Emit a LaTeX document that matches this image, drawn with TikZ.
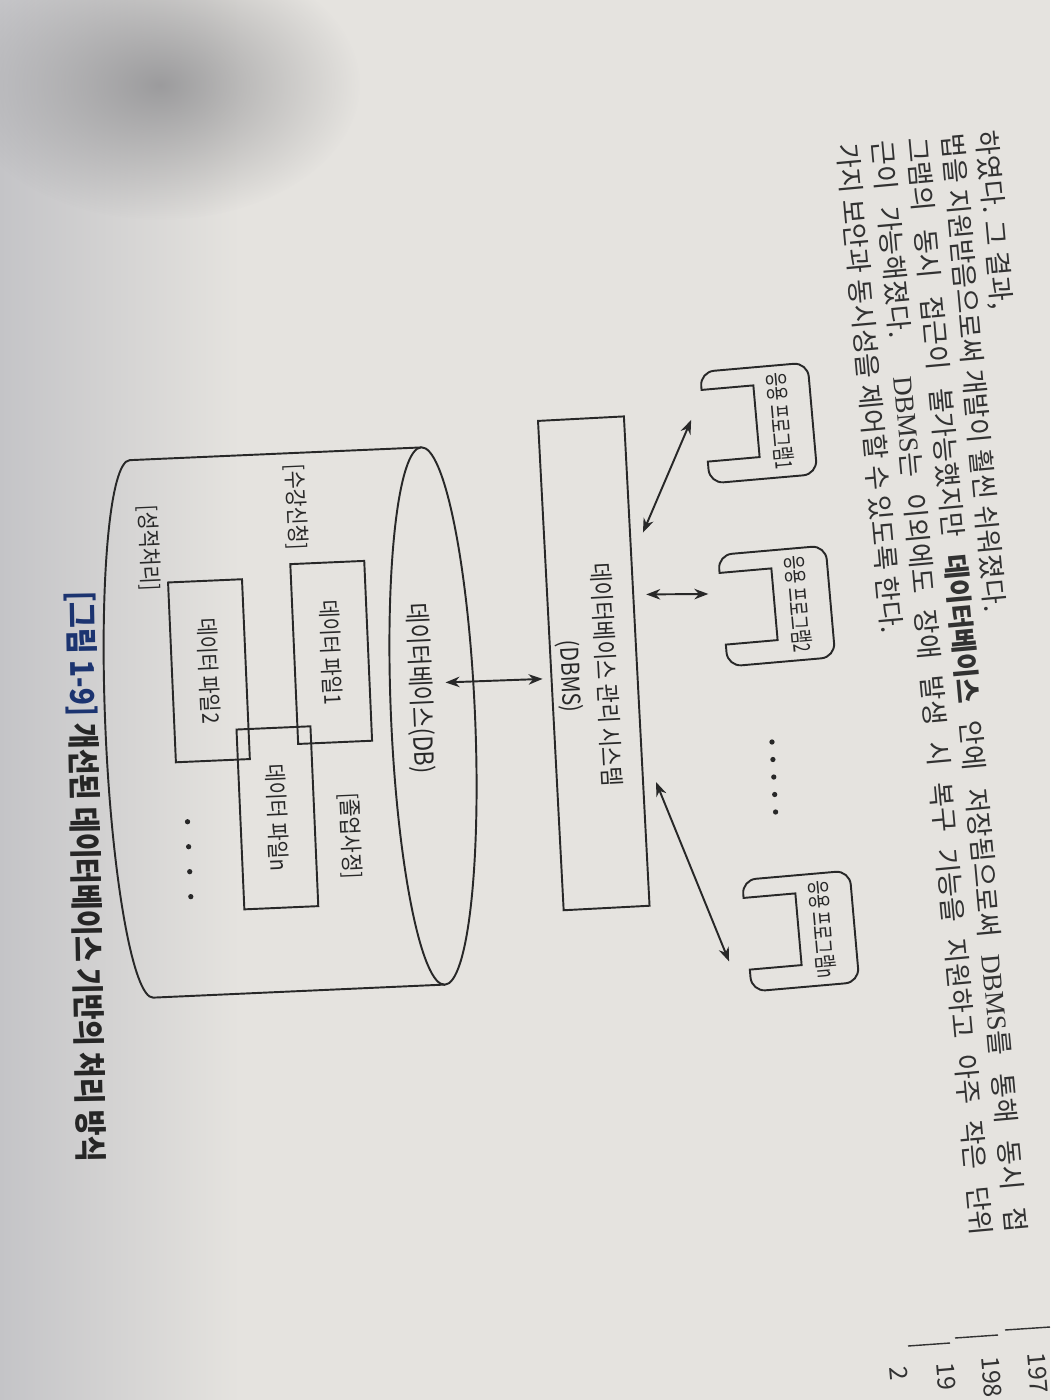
\documentclass[tikz,border=0pt]{standalone}
\usepackage{fontspec}
\setmainfont{Noto Sans CJK KR}
\newfontfamily\dgfont[FakeStretch=0.86]{Noto Sans CJK KR}
\newfontfamily\appfont[FakeStretch=0.66]{Noto Sans CJK KR}
\newfontfamily\bodylatin{Liberation Serif}
\usetikzlibrary{arrows.meta, positioning, calc, fadings}
\definecolor{paper}{RGB}{229,227,223}
\definecolor{paperdark}{RGB}{196,196,199}
\definecolor{shadowgray}{RGB}{135,135,138}
\definecolor{ink}{RGB}{40,40,40}
\definecolor{bodyink}{RGB}{50,50,50}
\definecolor{capblue}{RGB}{28,52,112}
\tikzfading[name=softblob, inner color=transparent!25, outer color=transparent!100]
\tikzset{
    diagram/.style={ink, line width=0.55pt, >={Stealth[length=4pt, width=3pt]}},
    pxframe/.style={x=0.01cm, y=0.01cm, transform shape},
    lbl/.style={font=\dgfont\fontsize{6.5}{7.8}\selectfont, inner sep=0pt, text=ink},
    biglbl/.style={font=\dgfont\fontsize{7}{8.4}\selectfont, inner sep=0pt, text=ink},
    applbl/.style={font=\appfont\fontsize{6.6}{7.8}\selectfont, inner sep=0pt, text=ink},
    filebox/.style={draw, lbl, minimum width=1.80cm, minimum height=0.74cm},
    dbmsbox/.style={draw, minimum width=4.9cm, minimum height=0.86cm, inner sep=0pt},
    capstyle/.style={font=\dgfont\bfseries\fontsize{9.3}{11}\selectfont, inner sep=0pt, text=black!85},
    bodyline/.style={font=\fontsize{7.7}{9}\selectfont, text=bodyink, inner sep=0pt, anchor=west},
    sidenum/.style={font=\fontsize{7}{8}\selectfont, text=bodyink, inner sep=0pt, anchor=west, rotate=-85},
    dot/.style={circle, fill=ink, inner sep=0pt, minimum size=1.5pt},
}
% outline of one application program (local px frame)
\newcommand{\appoutline}{%
    \draw (18,0) -- (14,0) arc[start angle=270, end angle=180, radius=0.14cm]
        -- (0,94) arc[start angle=180, end angle=90, radius=0.14cm]
        -- (98,108) arc[start angle=90, end angle=0, radius=0.14cm]
        -- (112,14) arc[start angle=0, end angle=-90, radius=0.14cm]
        -- (90,0) -- (90,52) -- (18,52) -- cycle;}

\begin{document}
\begin{tikzpicture}[diagram]
    \useasboundingbox (0,0) rectangle (10.5,-14);
    \clip (0,0) rectangle (10.5,-14);
    % photographed page
    \fill[paper] (0,0) rectangle (10.5,-14);
    \shade[left color=paperdark, right color=paper] (0,0) rectangle (2.4,-14);
    \fill[shadowgray, path fading=softblob] (1.6,-0.85) ellipse [x radius=2.0, y radius=1.35];

    % body text above the figure
    \begin{scope}[shift={(9.85cm,-1.30cm)}, rotate=-84.8, pxframe]
        \node[bodyline] (line0) at (0,0) {하였다. 그 결과,};
        \node[bodyline] (line1) at (0,-33) {법을 지원받음으로써 개발이 훨씬 쉬워졌다.};
        \node[bodyline] (line2) at (0,-68) {\makebox[11cm][s]{그램의 동시 접근이 불가능했지만 \textbf{데이터베이스} 안에 저장됨으로써 {\bodylatin DBMS}를 통해 동시 접}};
        \node[bodyline] (line3) at (0,-103) {\makebox[11cm][s]{근이 가능해졌다. {\bodylatin DBMS}는 이외에도 장애 발생 시 복구 기능을 지원하고 아주 작은 단위}};
        \node[bodyline] (line4) at (0,-138) {가지 보안과 동시성을 제어할 수 있도록 한다.};
    \end{scope}

    % DBMS
    \begin{scope}[shift={(5.37cm,-4.20cm)}, rotate=-87, pxframe]
        \node[dbmsbox, anchor=south west] (dbms) at (0,0) {};
        \node[biglbl, align=center] (dbmslbl) at (258,37) {데이터베이스 관리 시스템\\[1.8pt](DBMS)};
        \coordinate (dbms-a1) at (118,100);
        \coordinate (dbms-a2) at (180,100);
        \coordinate (dbms-an) at (368,100);
        \coordinate (dbms-db) at (259,-8);
    \end{scope}

    % application programs
    \begin{scope}[shift={(7.00cm,-3.72cm)}, rotate=-85, pxframe]
        \appoutline
        \node[applbl] (app1) at (56,76) {응용 프로그램1};
        \coordinate (app1-tip) at (47,-13);
    \end{scope}
    \begin{scope}[shift={(7.18cm,-5.55cm)}, rotate=-85, pxframe]
        \appoutline
        \node[applbl] (app2) at (56,76) {응용 프로그램2};
        \coordinate (app2-tip) at (38,-13);
    \end{scope}
    \begin{scope}[shift={(7.42cm,-8.80cm)}, rotate=-85, pxframe]
        \appoutline
        \node[applbl] (appn) at (56,76) {응용 프로그램n};
        \coordinate (appn-tip) at (80,-20);
    \end{scope}
    \foreach \k in {0,...,4}
        \node[dot] (appdot\k) at ($(7.72,-7.42)+(0.009*\k,-0.175*\k)$) {};

    % database cylinder
    \begin{scope}[shift={(4.33cm,-7.16cm)}, rotate=-87.5, pxframe]
        \draw (0,0) ellipse [x radius=2.69cm, y radius=0.42cm];
        \draw (-269,0) -- (-269,-292) arc [start angle=180, end angle=360, x radius=2.69cm, y radius=0.36cm] -- (269,0);
        \node[font=\dgfont\fontsize{7.5}{9}\selectfont, inner sep=0pt, text=ink] (dblbl) at (-28,-12) {데이터베이스(DB)};
        \coordinate (db-tip) at (-33,14);
        \node[filebox] (file1) at (-68,-99) {데이터 파일1};
        \node[filebox] (file2) at (-55,-222) {데이터 파일2};
        \node[filebox] (filen) at (95,-160) {데이터 파일n};
        \node[lbl] (enrol) at (-215,-128) {[수강신청]};
        \node[lbl] (gradcheck) at (116,-88) {[졸업사정]};
        \node[lbl] (grading) at (-180,-277) {[성적처리]};
        \foreach \k in {0,...,3}
            \node[dot] (dbdot\k) at (95+25*\k,-250) {};
    \end{scope}

    % connectors
    \draw[<->] (dbms-a1) -- (app1-tip);
    \draw[<->] (dbms-a2) -- (app2-tip);
    \draw[<->] (dbms-an) -- (appn-tip);
    \draw[<->] (db-tip) -- (dbms-db);

    % caption
    \node[capstyle, rotate=-89, anchor=west] (caption) at (0.80,-5.90)
        {{\color{capblue}[그림 1-9]} 개선된 데이터베이스 기반의 처리 방식};

    % margin of the next column
    \draw[bodyink, line width=0.4pt] (10.05,-13.30) -- (10.50,-13.27);
    \draw[bodyink, line width=0.4pt] (9.55,-13.38) -- (9.98,-13.35);
    \draw[bodyink, line width=0.4pt] (9.08,-13.46) -- (9.50,-13.43);
    \node[sidenum] (yr1) at (10.36,-13.52) {197};
    \node[sidenum] (yr2) at (9.90,-13.56) {198};
    \node[sidenum] (yr3) at (9.45,-13.62) {19};
    \node[sidenum] (yr4) at (8.98,-13.66) {2};
\end{tikzpicture}
\end{document}
